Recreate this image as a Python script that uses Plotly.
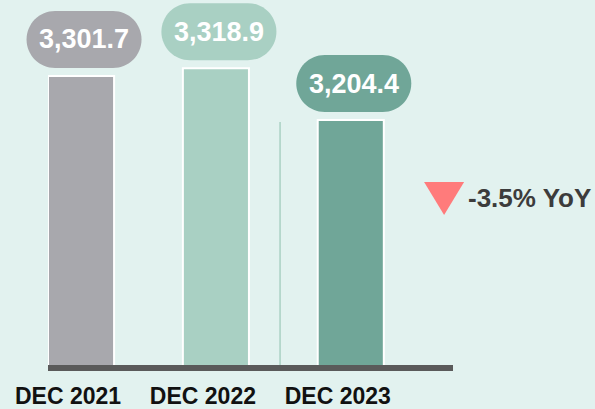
import plotly.graph_objects as go

categories = ["DEC 2021", "DEC 2022", "DEC 2023"]
values = [3301.7, 3318.9, 3204.4]
value_labels = ["3,301.7", "3,318.9", "3,204.4"]
bar_colors = ["#A8A8AD", "#A9D0C3", "#70A698"]
yoy_text = "-3.5% YoY"

BG = "#E2F2EF"
FONT = "Liberation Sans, Arial, sans-serif"
XR = [-0.245, 2.758]
YR = [2665, 3469]

def xp(x):
    return (x - XR[0]) / (XR[1] - XR[0])

def yp(y):
    return (y - YR[0]) / (YR[1] - YR[0])

fig = go.Figure()
fig.add_trace(go.Bar(
    x=list(range(len(categories))), y=values,
    width=0.49,
    marker=dict(color=bar_colors, line=dict(color="white", width=2)),
    hoverinfo="skip",
))

def pill(x0, x1, y0, y1):
    r = (y1 - y0) / 2
    k = 0.5523 * r
    xl, xr = x0 + r, x1 - r
    ym = (y0 + y1) / 2
    return (f"M {xl},{y0} L {xr},{y0} "
            f"C {xr + k},{y0} {x1},{ym - k} {x1},{ym} "
            f"C {x1},{ym + k} {xr + k},{y1} {xr},{y1} "
            f"L {xl},{y1} "
            f"C {xl - k},{y1} {x0},{ym + k} {x0},{ym} "
            f"C {x0},{ym - k} {xl - k},{y0} {xl},{y0} Z")

shapes = []
annotations = []
for i, (v, lab, c) in enumerate(zip(values, value_labels, bar_colors)):
    shapes.append(dict(
        type="path", xref="paper", yref="paper", xsizemode="pixel", ysizemode="pixel",
        xanchor=xp(i), yanchor=yp(v), path=pill(-54.5, 60.5, 8, 65),
        fillcolor=c, line=dict(width=0), layer="above",
    ))
    annotations.append(dict(
        x=i, y=v, xref="x", yref="y", text=f"<b>{lab}</b>", showarrow=False,
        xshift=3, yshift=36.5, xanchor="center", yanchor="middle",
        font=dict(family=FONT, size=27, color="white"),
    ))

# divider line
shapes.append(dict(type="line", xref="paper", yref="paper", x0=0.573, x1=0.573,
                   y0=0, y1=0.666, line=dict(color="#A9D0C3", width=1.5), layer="below"))
# down triangle
shapes.append(dict(type="path", xref="paper", yref="paper", xsizemode="pixel", ysizemode="pixel",
                   xanchor=0.978, yanchor=0.4575, path="M -20,16 L 20,16 L 0,-17 Z",
                   fillcolor="#FF7B7B", line=dict(width=0)))
annotations.append(dict(x=1.032, y=0.4575, xref="paper", yref="paper", text=f"<b>{yoy_text}</b>",
                        showarrow=False, xanchor="left", yanchor="middle",
                        font=dict(family=FONT, size=26, color="#3C3C3C")))

fig.update_layout(
    width=595, height=409,
    margin=dict(l=48, r=142, t=0, b=44),
    paper_bgcolor=BG, plot_bgcolor=BG,
    showlegend=False,
    shapes=shapes, annotations=annotations,
    xaxis=dict(range=XR, tickmode="array", tickvals=list(range(len(categories))),
               ticktext=[f"<b>{c}</b>" for c in categories], showgrid=False, zeroline=False,
               showline=True, linecolor="#5A5A5A", linewidth=6, ticks="",
               ticklabelshift=-13, ticklabelstandoff=5,
               tickfont=dict(family=FONT, size=23, color="#111111"), fixedrange=True),
    yaxis=dict(range=YR, visible=False, fixedrange=True),
)
fig.write_html("out.html", config={"displayModeBar": False})

with open("out.html", encoding="utf-8") as f:
    html = f.read()
html = html.replace("<head>", "<head><style>html,body{margin:0;padding:0;overflow:hidden;}</style>", 1)
with open("out.html", "w", encoding="utf-8") as f:
    f.write(html)
